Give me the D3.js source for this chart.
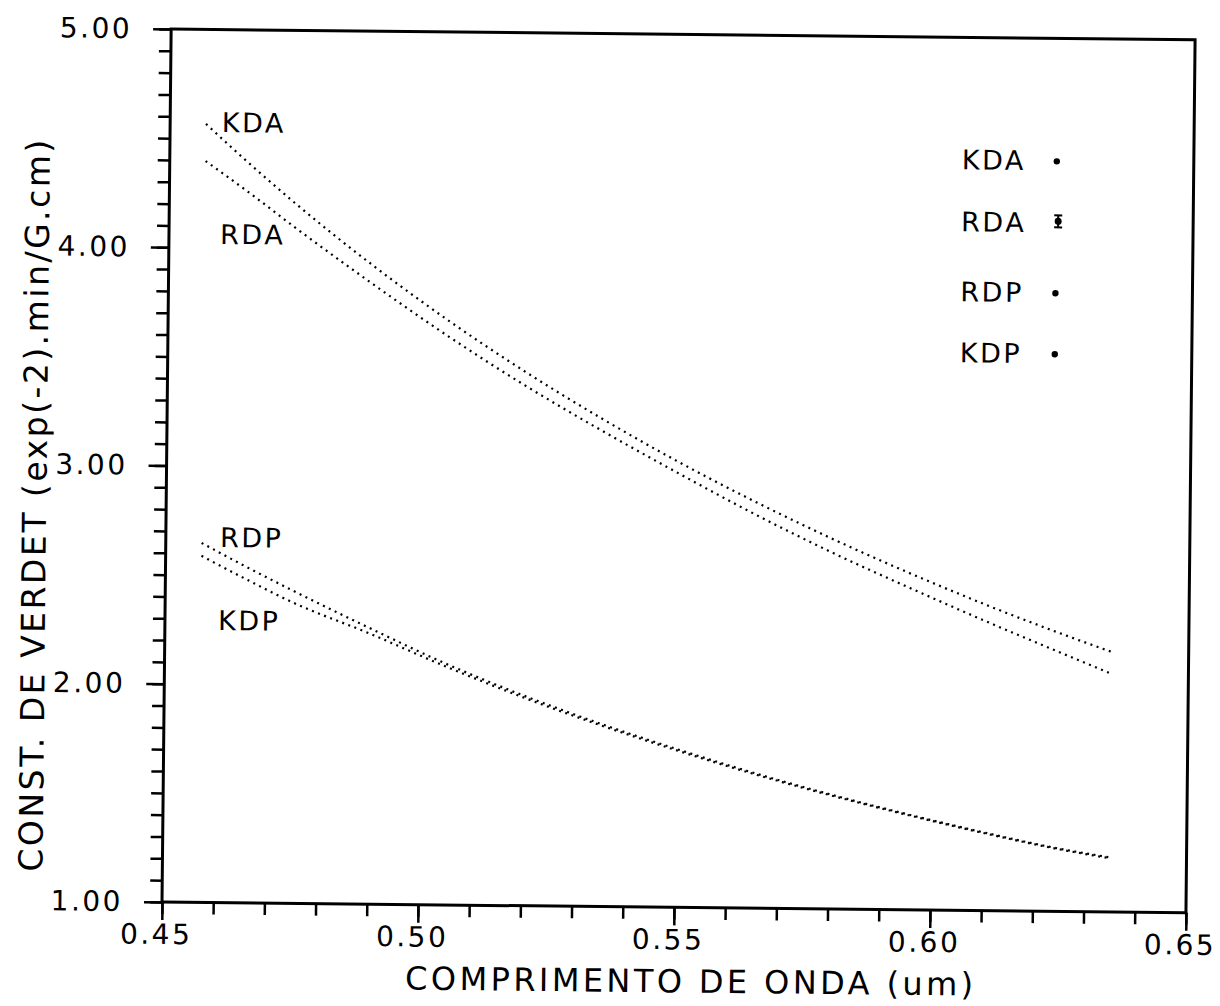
<!DOCTYPE html>
<html>
<head>
<meta charset="utf-8">
<title>Constante de Verdet</title>
<script src="https://d3js.org/d3.v7.min.js"></script>
<style>
  body { margin: 0; background: #fff; }
  text { font-family: "DejaVu Sans", sans-serif; fill: #000; }
</style>
</head>
<body>
<script>
  // comprimento de onda (um) and the four curves
  var wavelength = [0.457, 0.465, 0.475, 0.49, 0.505, 0.52, 0.535, 0.55, 0.565, 0.58, 0.595, 0.61, 0.625, 0.635];
  var kda = [4.567, 4.399, 4.200, 3.925, 3.674, 3.445, 3.235, 3.041, 2.863, 2.698, 2.546, 2.404, 2.273, 2.191];
  var rda = [4.397, 4.264, 4.090, 3.840, 3.602, 3.382, 3.180, 2.989, 2.805, 2.635, 2.479, 2.329, 2.185, 2.091];
  var rdp = [2.647, 2.549, 2.432, 2.265, 2.105, 1.965, 1.840, 1.727, 1.622, 1.527, 1.440, 1.360, 1.288, 1.250];
  var kdp = [2.588, 2.492, 2.378, 2.240, 2.092, 1.956, 1.833, 1.721, 1.617, 1.523, 1.437, 1.357, 1.285, 1.246];

  var seriesNames = ["KDA", "RDA", "RDP", "KDP"];
  var seriesValues = [kda, rda, rdp, kdp];
  // where the curve names sit (data units, left/baseline of text)
  var labelX = [0.4601, 0.4600, 0.4606, 0.4604];
  var labelY = [4.531, 4.018, 2.629, 2.249];

  var xTicks = [0.45, 0.50, 0.55, 0.60, 0.65];
  var yTicks = [1, 2, 3, 4, 5];

  var plotW = 1024, plotH = 873;

  var svg = d3.select("body").append("svg")
    .attr("width", 1220)
    .attr("height", 1006);

  // the scanned sheet is tilted a little clockwise
  var g = svg.append("g")
    .attr("transform", "translate(162,29) rotate(0.6,0," + plotH + ")");

  var x = d3.scaleLinear().domain([0.45, 0.65]).range([0, plotW]);
  var y = d3.scaleLinear().domain([1, 5]).range([plotH, 0]);

  var xMinor = d3.range(0, 21).map(function(i) { return 0.45 + i * 0.01; });
  var yMinor = d3.range(0, 41).map(function(i) { return 1 + i * 0.1; });

  // minor ticks
  g.append("g")
    .attr("class", "axis")
    .attr("transform", "translate(0," + plotH + ")")
    .call(d3.axisBottom(x).tickValues(xMinor).tickSize(12).tickFormat(""));
  g.append("g")
    .attr("class", "axis")
    .call(d3.axisLeft(y).tickValues(yMinor).tickSize(12).tickFormat(""));

  // major ticks + labels
  g.append("g")
    .attr("class", "axis major")
    .attr("transform", "translate(0," + plotH + ")")
    .call(d3.axisBottom(x).tickValues(xTicks).tickSize(18).tickPadding(4).tickFormat(d3.format(".2f")));
  g.append("g")
    .attr("class", "axis major")
    .call(d3.axisLeft(y).tickValues(yTicks).tickSize(18).tickPadding(21).tickFormat(d3.format(".2f")));

  g.selectAll(".axis .domain").remove();
  g.selectAll(".axis line").attr("stroke", "#000").attr("stroke-width", 2.5);
  g.selectAll(".axis text")
    .attr("fill", "#000")
    .style("font-family", "'DejaVu Sans', sans-serif")
    .style("font-size", "28px")
    .style("letter-spacing", "2.5px");
  g.selectAll(".axis.major text").filter(function() {
    return this.parentNode.parentNode.getAttribute("transform");
  }).attr("dx", "-6");

  // frame
  g.append("rect")
    .attr("x", 0).attr("y", 0)
    .attr("width", plotW).attr("height", plotH)
    .attr("fill", "none")
    .attr("stroke", "#000")
    .attr("stroke-width", 3);

  // dotted curves
  var line = d3.line()
    .x(function(d, i) { return x(wavelength[i]); })
    .y(function(d) { return y(d); })
    .curve(d3.curveMonotoneX);

  g.append("g")
    .selectAll("path")
    .data(seriesValues)
    .enter().append("path")
    .attr("d", line)
    .attr("fill", "none")
    .attr("stroke", "#000")
    .attr("stroke-width", 2.2)
    .attr("stroke-dasharray", "2,4.5");

  // curve names
  g.append("g")
    .selectAll("text")
    .data(seriesNames)
    .enter().append("text")
    .attr("x", function(d, i) { return x(labelX[i]); })
    .attr("y", function(d, i) { return y(labelY[i]); })
    .style("font-size", "27px")
    .style("letter-spacing", "2.5px")
    .text(function(d) { return d; });

  // legend (top right)
  var legendRows = [132, 194, 264, 325];
  var legend = g.append("g").attr("transform", "translate(792,0)");
  legend.selectAll("text")
    .data(seriesNames)
    .enter().append("text")
    .attr("x", 0)
    .attr("y", function(d, i) { return legendRows[i]; })
    .style("font-size", "27px")
    .style("letter-spacing", "2.5px")
    .text(function(d) { return d; });

  legend.selectAll("circle")
    .data(seriesNames.filter(function(d) { return d !== "RDA"; }))
    .enter().append("circle")
    .attr("cx", 95)
    .attr("cy", function(d) { return legendRows[seriesNames.indexOf(d)] - 9; })
    .attr("r", 3.2)
    .attr("fill", "#000");

  // RDA marker looks like a small error bar
  var eb = legend.append("g")
    .attr("transform", "translate(97," + (legendRows[1] - 11) + ")")
    .attr("stroke", "#000")
    .attr("stroke-width", 2);
  eb.append("line").attr("x1", 0).attr("x2", 0).attr("y1", -6).attr("y2", 6);
  eb.append("line").attr("x1", -4).attr("x2", 4).attr("y1", -6).attr("y2", -6);
  eb.append("line").attr("x1", -4).attr("x2", 4).attr("y1", 6).attr("y2", 6);
  eb.append("circle").attr("r", 2.5).attr("fill", "#000");

  // axis titles
  g.append("text")
    .attr("x", 528)
    .attr("y", plotH + 85)
    .attr("text-anchor", "middle")
    .attr("textLength", 568)
    .attr("lengthAdjust", "spacing")
    .style("font-size", "32px")
    .text("COMPRIMENTO DE ONDA (um)");

  g.append("text")
    .attr("transform", "translate(-120,478) rotate(-90)")
    .attr("text-anchor", "middle")
    .attr("textLength", 732)
    .attr("lengthAdjust", "spacing")
    .style("font-size", "33px")
    .text("CONST. DE VERDET (exp(-2).min/G.cm)");
</script>
</body>
</html>
